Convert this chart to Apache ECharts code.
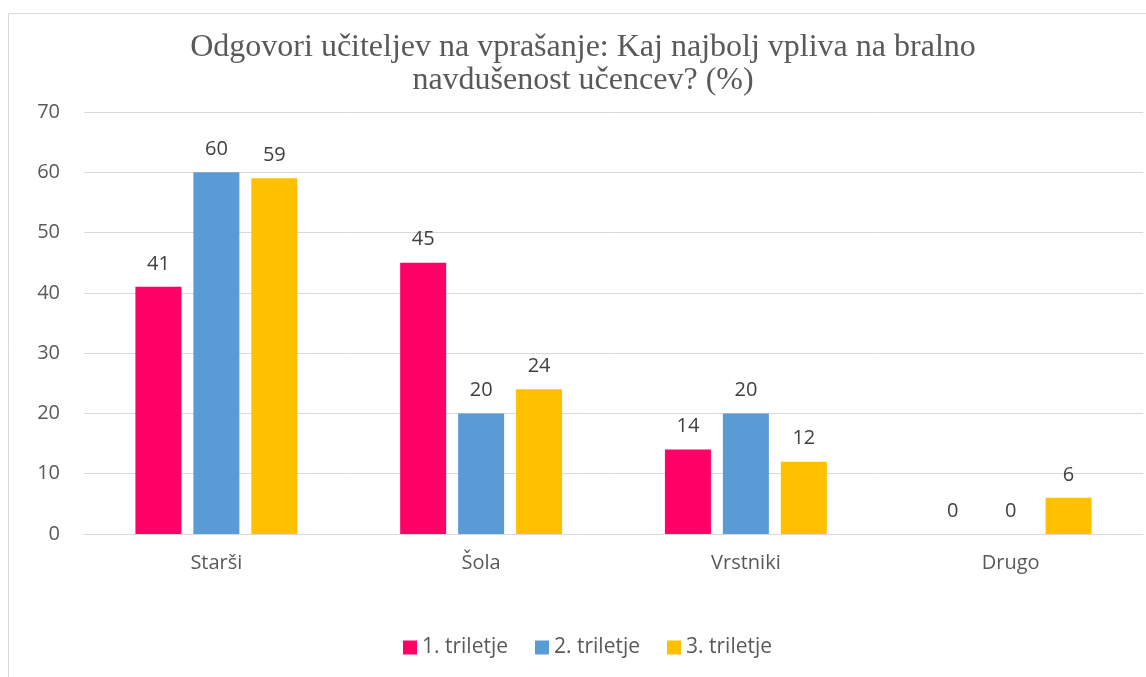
<!DOCTYPE html>
<html><head><meta charset="utf-8">
<script src="https://cdn.jsdelivr.net/npm/echarts@6/dist/echarts.min.js"></script>
<style>html,body{margin:0;padding:0;background:#fff;}#c{width:1146px;height:677px;}</style>
</head><body><div id="c"></div>
<script>
const titleText = 'Odgovori učiteljev na vprašanje: Kaj najbolj vpliva na bralno\nnavdušenost učencev? (%)';
const categories = ['Starši', 'Šola', 'Vrstniki', 'Drugo'];
const seriesNames = ['1. triletje', '2. triletje', '3. triletje'];
const triletje1 = [41, 45, 14, 0];
const triletje2 = [60, 20, 20, 0];
const triletje3 = [59, 24, 12, 6];
const colors = ['#FF0066', '#5B9BD5', '#FFC000'];
const yTicks = {min: 0, max: 70, interval: 10};

const chart = echarts.init(document.getElementById('c'), null, {renderer: 'canvas'});
const values = [triletje1, triletje2, triletje3];
chart.setOption({
  animation: false,
  color: colors,
  title: {
    text: titleText, left: 578, top: 26, textAlign: 'center',
    textStyle: {fontFamily: 'Liberation Serif', fontSize: 32, fontWeight: 'normal', color: '#595959', lineHeight: 33}
  },
  graphic: [{type: 'rect', shape: {x: 8.5, y: 13.5, width: 1200, height: 700}, style: {fill: 'none', stroke: '#D9D9D9', lineWidth: 1}, silent: true}],
  legend: {
    bottom: 19, left: 403, padding: 0, itemWidth: 14, itemHeight: 14, itemGap: 27, icon: 'rect',
    textStyle: {fontFamily: 'Open Sans', fontSize: 21, color: '#595959'},
    data: seriesNames
  },
  grid: {left: 84, right: 3, top: 112, bottom: 143, containLabel: false},
  xAxis: {
    type: 'category', data: categories,
    axisLine: {lineStyle: {color: '#D9D9D9', width: 1}},
    axisTick: {show: false},
    axisLabel: {fontFamily: 'Open Sans', fontSize: 20, color: '#595959', margin: 19}
  },
  yAxis: {
    type: 'value', min: yTicks.min, max: yTicks.max, interval: yTicks.interval,
    axisLine: {show: false}, axisTick: {show: false},
    splitLine: {lineStyle: {color: '#D9D9D9', width: 1}},
    axisLabel: {fontFamily: 'Open Sans', fontSize: 20, color: '#595959', margin: 24}
  },
  series: seriesNames.map((n, i) => ({
    name: n, type: 'bar', data: values[i], barWidth: 46, barGap: '26%',
    label: {show: true, position: 'top', distance: 13, fontFamily: 'Open Sans', fontSize: 20, color: '#404040'}
  }))
});
</script></body></html>
